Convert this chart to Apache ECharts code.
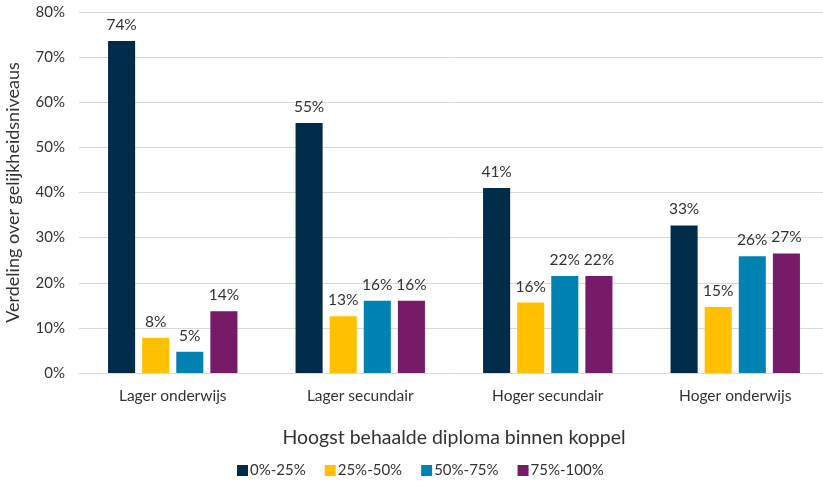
<!DOCTYPE html>
<html>
<head>
<meta charset="utf-8">
<script src="https://cdn.jsdelivr.net/npm/echarts@6/dist/echarts.min.js"></script>
<style>
html,body{margin:0;padding:0;background:#fff}
#main{width:823px;height:485px}
</style>
</head>
<body>
<div id="main"></div>
<script>
// categorieën en reeksen
var categories = ['Lager onderwijs', 'Lager secundair', 'Hoger secundair', 'Hoger onderwijs'];
var seriesNames = ['0%-25%', '25%-50%', '50%-75%', '75%-100%'];
var s0_25 = [73.6, 55.4, 41.0, 32.7];
var s25_50 = [7.8, 12.6, 15.6, 14.6];
var s50_75 = [4.7, 16.0, 21.5, 25.9];
var s75_100 = [13.7, 16.0, 21.5, 26.5];
var colors = ['#002B49', '#FFC000', '#0083B3', '#771B68'];

var font = 'Lato, "DejaVu Sans", sans-serif';
var myChart = echarts.init(document.getElementById('main'));

function makeSeries(name, data, color) {
    return {
        name: name,
        type: 'bar',
        data: data,
        barGap: '26%',
        barCategoryGap: '31%',
        itemStyle: { color: color },
        label: {
            show: true,
            position: 'top',
            distance: 8,
            color: '#333',
            fontSize: 15.5,
            fontFamily: font,
            formatter: function(p) { return Math.round(p.value) + '%'; }
        }
    };
}

var option = {
    animation: false,
    color: colors,
    grid: { left: 79, right: -6, top: 12, bottom: 112, containLabel: false, outerBoundsMode: 'none' },
    legend: {
        data: seriesNames,
        bottom: 2,
        left: 232,
        itemWidth: 11,
        itemHeight: 11,
        itemGap: 19,
        icon: 'rect',
        textStyle: { color: '#333', fontSize: 15, fontFamily: font, padding: [0, 0, 0, -3] }
    },
    xAxis: {
        type: 'category',
        data: categories,
        name: 'Hoogst behaalde diploma binnen koppel',
        nameLocation: 'middle',
        nameGap: 55,
        nameTextStyle: { color: '#333', fontSize: 19.5, fontFamily: font },
        axisLine: { lineStyle: { color: '#d9d9d9' } },
        axisTick: { show: false },
        axisLabel: { color: '#333', fontSize: 15.5, fontFamily: font, margin: 15 }
    },
    yAxis: {
        type: 'value',
        min: 0,
        max: 80,
        interval: 10,
        name: 'Verdeling over gelijkheidsniveaus',
        nameLocation: 'middle',
        nameGap: 57,
        nameTextStyle: { color: '#333', fontSize: 18, fontFamily: font },
        axisLine: { show: false },
        axisTick: { show: false },
        splitLine: { lineStyle: { color: '#d9d9d9' } },
        axisLabel: {
            color: '#333', fontSize: 15, fontFamily: font, margin: 14,
            formatter: '{value}%'
        }
    },
    series: [
        makeSeries(seriesNames[0], s0_25, colors[0]),
        makeSeries(seriesNames[1], s25_50, colors[1]),
        makeSeries(seriesNames[2], s50_75, colors[2]),
        makeSeries(seriesNames[3], s75_100, colors[3])
    ]
};
myChart.setOption(option);
</script>
</body>
</html>
